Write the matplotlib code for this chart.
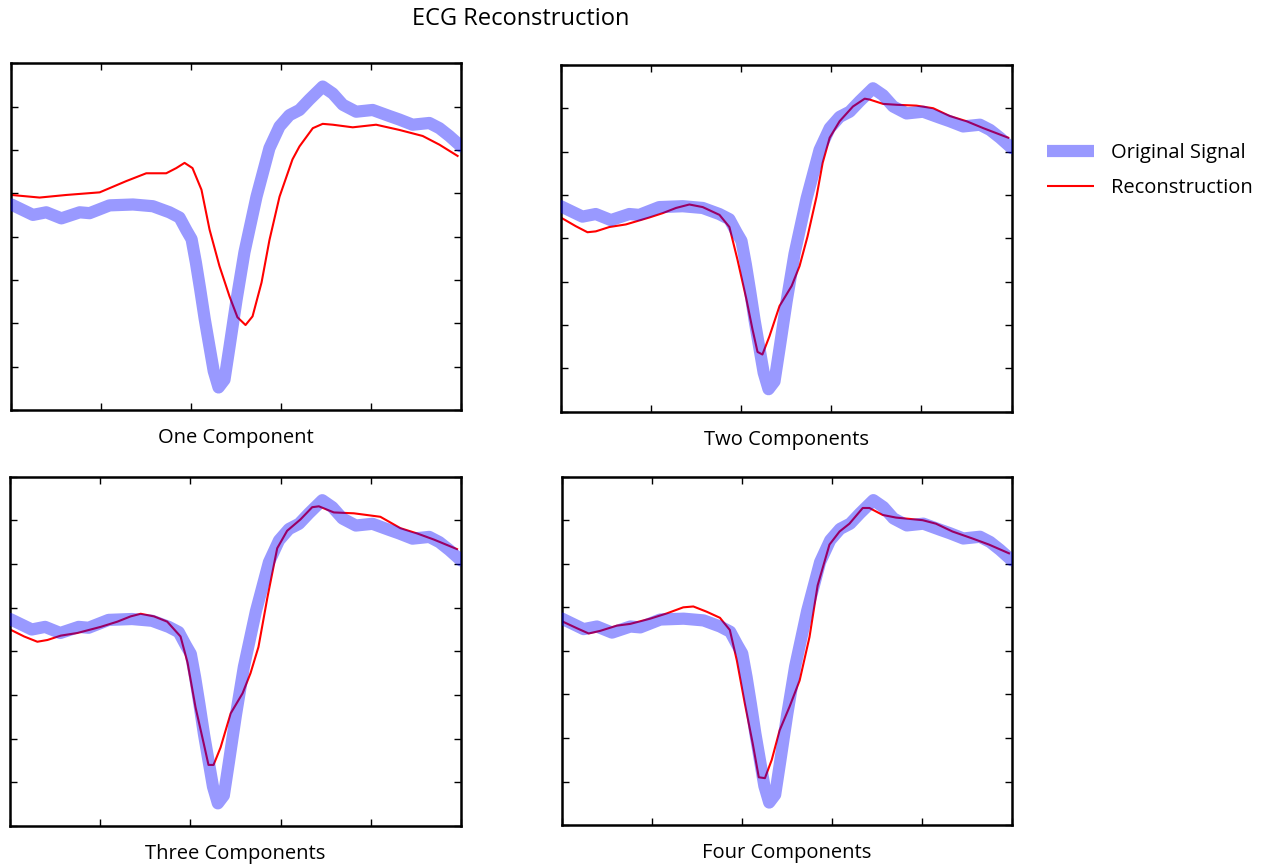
import numpy as np
import matplotlib.pyplot as plt
from matplotlib.lines import Line2D

plt.rcParams['font.family'] = ['Open Sans', 'DejaVu Sans']

# original ECG beat (sample index, amplitude)
t_orig = [0, 12, 19.4, 27.8, 38, 43.5, 54.6, 67.6, 78.7, 87.9, 93.5, 97.4, 100.2,
          102.6, 105, 107.5, 110, 112.5, 115.2, 118.5, 121.3, 125.2, 129.6, 136.3,
          143.5, 149.1, 154.6, 160.2, 165.7, 173.1, 178.7, 184.3, 191.7, 200.9,
          210.2, 215.7, 223.1, 232.4, 238, 243.5, 250]
y_orig = [0.37, 0.25, 0.28, 0.21, 0.28, 0.27, 0.36, 0.37, 0.35, 0.28, 0.22, 0.07, -0.03,
          -0.30, -0.61, -0.95, -1.25, -1.55, -1.74, -1.65, -1.27, -0.73, -0.18, 0.46,
          1.02, 1.27, 1.40, 1.46, 1.58, 1.73, 1.65, 1.52, 1.44, 1.46,
          1.39, 1.35, 1.29, 1.31, 1.25, 1.16, 1.04]

# reconstructions with 1..4 components
t_rec1 = [0, 15.7, 30.6, 49.1, 63.9, 75, 86.1, 91.7, 96.3, 100.7, 105.7, 110.2, 115.7,
          121.3, 125.7, 130.2, 134.1, 139.1, 143.5, 149.1, 156.3, 160.2, 167.6, 173.1,
          178.7, 189.8, 202.8, 215.7, 228.7, 238, 248.1]
y_rec1 = [0.48, 0.45, 0.48, 0.51, 0.64, 0.73, 0.73, 0.79, 0.85, 0.79, 0.54, 0.08, -0.34,
          -0.69, -0.93, -1.02, -0.92, -0.53, -0.04, 0.46, 0.89, 1.04, 1.25, 1.30,
          1.29, 1.26, 1.29, 1.23, 1.16, 1.06, 0.93]

t_rec2 = [0, 8.3, 14.8, 19.4, 26.9, 36.1, 49.1, 56.5, 63.9, 71.3, 78.7, 88, 93.5, 97.9,
          102.9, 106.3, 109.1, 111.8, 115.7, 121.3, 128, 132.4, 136.8, 141.8, 145.2,
          149.1, 154.6, 162, 168.5, 171.3, 178.7, 186.1, 197.2, 206.5, 215.7, 225,
          234.3, 248.1]
y_rec2 = [0.24, 0.14, 0.07, 0.08, 0.13, 0.16, 0.24, 0.29, 0.35, 0.39, 0.36, 0.27, 0.13, -0.24,
          -0.70, -1.05, -1.31, -1.34, -1.13, -0.78, -0.55, -0.32, 0.02, 0.48, 0.87,
          1.16, 1.35, 1.52, 1.61, 1.60, 1.55, 1.54, 1.53, 1.50, 1.41, 1.35,
          1.27, 1.16]

t_rec3 = [0, 7.8, 15.1, 20.7, 28.1, 37.3, 50.2, 59.5, 66.8, 72.4, 79.8, 87.1, 94.5, 98.4,
          102.8, 107.3, 110, 112.8, 116.7, 122.3, 128.9, 133.3, 137.7, 142.7, 148.1,
          153.6, 161, 167.5, 171.2, 179.5, 190.6, 198, 205.3, 216.4, 225.6, 234.9, 247.8]
y_rec3 = [0.25, 0.17, 0.11, 0.13, 0.18, 0.21, 0.28, 0.34, 0.40, 0.43, 0.40, 0.34, 0.17, -0.13,
          -0.64, -1.05, -1.30, -1.30, -1.10, -0.71, -0.48, -0.25, 0.05, 0.62, 1.18,
          1.38, 1.51, 1.65, 1.66, 1.59, 1.58, 1.56, 1.54, 1.41, 1.35, 1.28, 1.17]

t_rec4 = [0, 8.3, 14.8, 21.2, 30.5, 37.9, 49, 58.2, 67.4, 73, 80.4, 87.8, 93.3, 97.2,
          101.6, 106, 109.4, 112.8, 116.6, 121, 126.5, 132.1, 137.6, 142.1, 148.7,
          154.3, 159.8, 167.2, 170.9, 178.3, 185.7, 200.5, 207.9, 217.1, 228.2, 237.4, 248.5]
y_rec4 = [0.34, 0.26, 0.20, 0.23, 0.29, 0.31, 0.37, 0.43, 0.50, 0.51, 0.45, 0.38, 0.24, -0.11,
          -0.60, -1.06, -1.45, -1.46, -1.25, -0.91, -0.64, -0.34, 0.16, 0.75, 1.22,
          1.37, 1.46, 1.64, 1.64, 1.56, 1.53, 1.50, 1.46, 1.37, 1.29, 1.22, 1.12]

titles = ['One Component', 'Two Components', 'Three Components', 'Four Components']
recs = [(t_rec1, y_rec1), (t_rec2, y_rec2), (t_rec3, y_rec3), (t_rec4, y_rec4)]

# axes boxes [left, bottom, width, height]
boxes = [[0.009, 0.526, 0.356, 0.401],
         [0.444, 0.524, 0.357, 0.401],
         [0.008, 0.045, 0.357, 0.404],
         [0.445, 0.046, 0.356, 0.403]]

fig = plt.figure(figsize=(12.63, 8.65), dpi=100)

blue = (0.0, 0.0, 1.0)
for box, (tr, yr), title in zip(boxes, recs, titles):
    ax = fig.add_axes(box)
    ax.plot(tr, yr, color='red', lw=1.5, zorder=2)
    # thick translucent original drawn over the reconstruction
    ax.plot(t_orig, y_orig, color=blue, alpha=0.4, lw=8.8, zorder=3,
            solid_joinstyle='round', solid_capstyle='round')
    ax.set_xlim(0, 250)
    ax.set_ylim(-2, 2)
    ax.set_xticks(np.arange(0, 251, 50))
    ax.set_yticks(np.arange(-2, 2.01, 0.5))
    ax.tick_params(direction='in', length=5, width=1, top=True, right=True,
                   labelbottom=False, labelleft=False)
    for s in ax.spines.values():
        s.set_linewidth(1.8)
    ax.set_xlabel(title, fontsize=14.5, labelpad=13)

fig.text(0.412, 0.978, 'ECG Reconstruction', ha='center', va='center', fontsize=17)

handles = [Line2D([], [], color=blue, alpha=0.4, lw=8.8, solid_capstyle='butt'),
           Line2D([], [], color='red', lw=1.5, solid_capstyle='butt')]
fig.legend(handles, ['Original Signal', 'Reconstruction'], loc='upper left',
           bbox_to_anchor=(0.829, 0.835), frameon=False, fontsize=14.5,
           borderpad=0, borderaxespad=0,
           handlelength=2.35, handletextpad=0.85, labelspacing=0.75)

plt.savefig('out.png', dpi=100)
plt.close()
